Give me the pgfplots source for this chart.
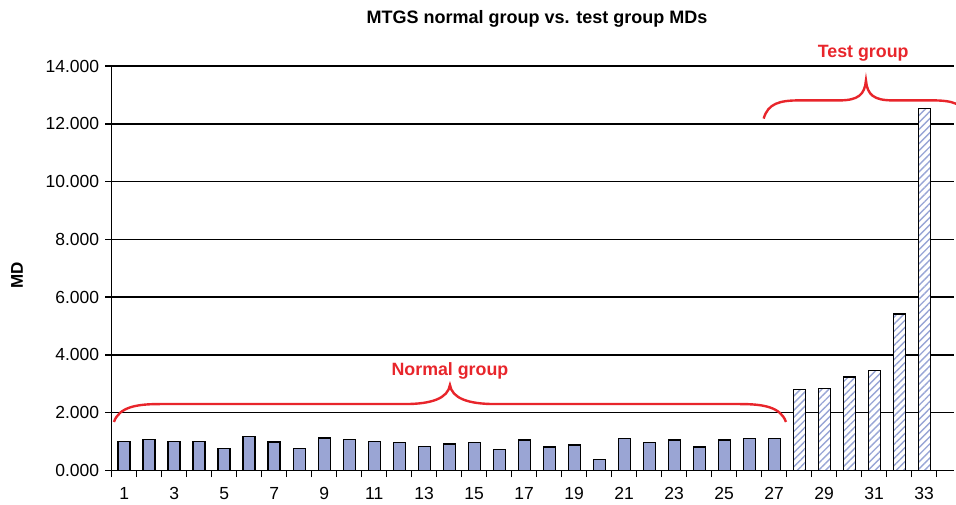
\documentclass[border=0pt]{standalone}
\usepackage{pgfplots}
\pgfplotsset{compat=1.18}
\usetikzlibrary{patterns.meta}
\usepackage{fontspec}
\setmainfont{Liberation Sans}
\definecolor{barblue}{HTML}{9AA5D4}
\definecolor{hatchblue}{HTML}{98A5D6}
\definecolor{bracered}{HTML}{E8252B}
\pgfplotstableread{
x y
1 1.01
2 1.07
3 1.01
4 1.01
5 0.77
6 1.18
7 0.98
8 0.77
9 1.12
10 1.07
11 1.01
12 0.97
13 0.83
14 0.92
15 0.97
16 0.73
17 1.06
18 0.82
19 0.88
20 0.38
21 1.11
22 0.97
23 1.06
24 0.82
25 1.06
26 1.11
27 1.11
}\normaldata
\pgfplotstableread{
x y
28 2.80
29 2.84
30 3.23
31 3.47
32 5.42
33 12.53
}\testdata
\begin{document}
\begin{tikzpicture}
\begin{axis}[
  name=ax,
  scale only axis,
  width=842.5pt, height=404.5pt,
  xmin=0.5, xmax=34.2, ymin=0, ymax=14,
  axis lines=left,
  axis line style={-, line width=1.6pt, black},
  clip=false,
  /pgf/number format/assume math mode=true,
  ytick={0,2,...,14},
  scaled y ticks=false,
  yticklabel style={/pgf/number format/fixed, /pgf/number format/fixed zerofill, /pgf/number format/precision=3, xshift=-2.5pt},
  ymajorgrids,
  grid style={black, line width=1.5pt},
  xtick={0.5,1.5,...,33.5},
  xticklabels={},
  extra x ticks={1,3,...,33},
  extra x tick labels={1,3,5,7,9,11,13,15,17,19,21,23,25,27,29,31,33},
  extra x tick style={major tick length=0pt, grid=none, xticklabel style={yshift=-13pt}},
  tick align=outside,
  tick pos=left,
  major tick length=6.5pt,
  tick style={black, line width=1.5pt},
  tick label style={font=\fontsize{17.5}{20}\selectfont, black},
  title={MTGS normal group vs. test group MDs},
  title style={font=\fontsize{18}{21}\selectfont\bfseries, at={(axis description cs:0.5,1)}, anchor=center, yshift=41pt, xshift=4pt},
  ylabel={MD},
  ylabel style={font=\fontsize{17}{20}\selectfont\bfseries, at={(axis description cs:-0.1124,0.483)}, anchor=center},
]
\addplot[ybar, bar width=12pt, fill=barblue, draw=black, line width=1.4pt] table[x=x,y=y] {\normaldata};
\addplot[ybar, bar width=12pt, preaction={fill=white}, pattern={Lines[angle=45, distance=5pt, line width=1.4pt]}, pattern color=hatchblue, draw=black, line width=1.4pt] table[x=x,y=y] {\testdata};
\draw[bracered, line width=2.4pt] (axis cs:0.59,1.68) .. controls (axis cs:0.8,2.2) and (axis cs:1.5,2.30) .. (axis cs:2.43,2.30) -- (axis cs:12.23,2.30) .. controls (axis cs:13.3,2.30) and (axis cs:13.95,2.5) .. (axis cs:14.03,2.96) .. controls (axis cs:14.11,2.5) and (axis cs:14.76,2.30) .. (axis cs:15.83,2.30) -- (axis cs:25.63,2.30) .. controls (axis cs:26.56,2.30) and (axis cs:27.26,2.2) .. (axis cs:27.47,1.68);
\draw[bracered, line width=2.4pt] (axis cs:26.58,12.18) .. controls (axis cs:26.75,12.7) and (axis cs:27.2,12.81) .. (axis cs:28.02,12.81) -- (axis cs:29.6,12.81) .. controls (axis cs:30.35,12.81) and (axis cs:30.62,13.0) .. (axis cs:30.67,13.5) .. controls (axis cs:30.72,13.0) and (axis cs:30.99,12.81) .. (axis cs:31.74,12.81) -- (axis cs:33.32,12.81) .. controls (axis cs:34.14,12.81) and (axis cs:34.59,12.7) .. (axis cs:34.76,12.18);
\node[bracered, font=\fontsize{17.8}{20}\selectfont\bfseries] at (axis cs:14.03,3.45) {Normal group};
\node[bracered, font=\fontsize{17.8}{20}\selectfont\bfseries] at (axis cs:30.56,14.45) {Test group};
\end{axis}
\pgfresetboundingbox
\path ([shift={(-111.7pt,-33.5pt)}]ax.south west) rectangle ([shift={(844.3pt,470.5pt)}]ax.south west);
\end{tikzpicture}
\end{document}
